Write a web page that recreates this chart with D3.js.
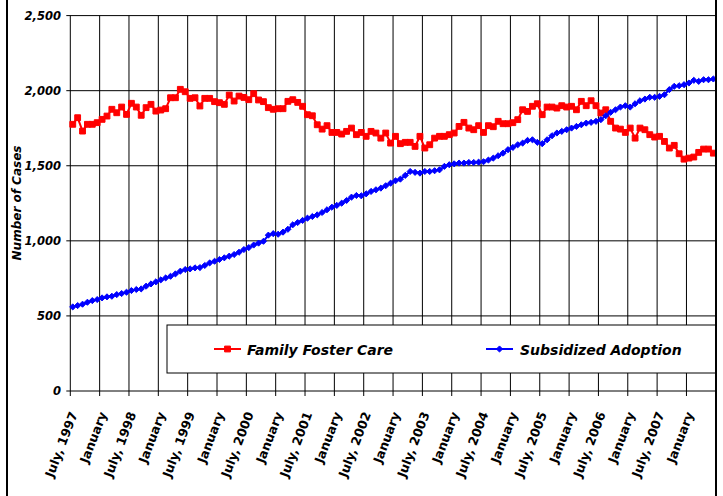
<!DOCTYPE html>
<meta charset="utf-8">
<style>
body {
  margin: 0;
  background: #fff;
}
.ylab {
  font-family: "DejaVu Sans", Verdana, sans-serif;
  font-size: 11.5px;
  font-weight: bold;
  font-style: italic;
}
.ytitle {
  font-family: "DejaVu Sans", Verdana, sans-serif;
  font-size: 12px;
  font-weight: bold;
  font-style: italic;
}
.xlab {
  font-family: "Comic Sans MS", "DejaVu Sans", sans-serif;
  font-size: 12.5px;
  font-weight: bold;
}
.legend text {
  font-family: "Comic Sans MS", "DejaVu Sans", sans-serif;
  font-size: 14px;
  font-weight: bold;
  font-style: italic;
}
</style>
<body>
<script src="https://cdn.jsdelivr.net/npm/d3@7"></script>
<script>
// monthly, July 1997 .. June 2008
var months = d3.timeMonth.range(new Date(1997, 6, 1), new Date(2008, 6, 1));

var tickLabels = ["July, 1997", "January", "July, 1998", "January", "July, 1999", "January",
  "July, 2000", "January", "July, 2001", "January", "July, 2002", "January",
  "July, 2003", "January", "July, 2004", "January", "July, 2005", "January",
  "July, 2006", "January", "July, 2007", "January"];

var yTicks = [0, 500, 1000, 1500, 2000, 2500];

var seriesNames = ["Family Foster Care", "Subsidized Adoption"];

var fosterCare = [
  1776, 1820, 1731, 1776, 1776, 1787, 1809, 1831, 1876, 1853, 1891, 1842,
  1916, 1891, 1836, 1887, 1909, 1864, 1871, 1880, 1953, 1953, 2009, 1993,
  1949, 1953, 1898, 1949, 1949, 1927, 1920, 1909, 1971, 1931, 1964, 1955,
  1940, 1980, 1938, 1927, 1887, 1876, 1880, 1880, 1929, 1940, 1922, 1896,
  1840, 1833, 1773, 1744, 1767, 1722, 1722, 1711, 1729, 1751, 1707, 1722,
  1696, 1729, 1718, 1684, 1718, 1651, 1696, 1647, 1656, 1656, 1629, 1696,
  1618, 1640, 1684, 1696, 1696, 1707, 1718, 1762, 1789, 1751, 1740, 1767,
  1722, 1767, 1760, 1796, 1780, 1780, 1787, 1807, 1873, 1862, 1896, 1913,
  1840, 1891, 1891, 1884, 1900, 1891, 1896, 1873, 1929, 1900, 1933, 1900,
  1851, 1873, 1796, 1751, 1744, 1722, 1751, 1684, 1751, 1740, 1707, 1691,
  1696, 1662, 1618, 1636, 1580, 1544, 1551, 1558, 1589, 1611, 1611, 1584
];

var adoption = [
  560, 569, 578, 591, 602, 609, 620, 627, 631, 642, 649, 658,
  669, 676, 680, 698, 713, 727, 740, 753, 764, 780, 798, 809,
  813, 820, 822, 836, 853, 864, 876, 887, 898, 909, 924, 942,
  955, 972, 985, 997, 1038, 1048, 1044, 1058, 1077, 1107, 1122, 1136,
  1151, 1162, 1173, 1189, 1207, 1224, 1236, 1251, 1269, 1291, 1302, 1300,
  1313, 1329, 1340, 1351, 1367, 1384, 1400, 1411, 1436, 1462, 1456, 1451,
  1462, 1462, 1467, 1473, 1496, 1507, 1513, 1518, 1518, 1522, 1522, 1524,
  1527, 1538, 1551, 1567, 1584, 1607, 1622, 1640, 1651, 1669, 1673, 1656,
  1647, 1673, 1700, 1718, 1729, 1740, 1751, 1762, 1773, 1784, 1789, 1796,
  1807, 1833, 1856, 1873, 1891, 1900, 1891, 1913, 1933, 1944, 1956, 1956,
  1962, 1973, 2007, 2029, 2033, 2040, 2051, 2069, 2062, 2073, 2073, 2078
];

var W = 723, H = 496;
var plotL = 70.3, plotR = 715.8, plotT = 15.6, plotB = 391;

var svg = d3.select("body").append("svg").attr("width", W).attr("height", H);

var x = d3.scaleBand().domain(d3.range(months.length)).range([plotL, plotR]).padding(0);
var y = d3.scaleLinear().domain([0, 2500]).range([plotB, plotT]);
var cx = function(i) { return x(i) + x.bandwidth() / 2; };

var tickIdx = d3.range(0, months.length, 6);

// grid
var grid = svg.append("g").attr("stroke", "#000").attr("stroke-width", 1);
grid.selectAll(".v").data(tickIdx.concat([months.length])).enter().append("line")
    .attr("x1", function(i) { return i < months.length ? x(i) : plotR; })
    .attr("x2", function(i) { return i < months.length ? x(i) : plotR; })
    .attr("y1", plotT).attr("y2", plotB + 5);
grid.selectAll(".h").data(yTicks).enter().append("line")
    .attr("x1", plotL - 4).attr("x2", plotR)
    .attr("y1", function(d) { return y(d); })
    .attr("y2", function(d) { return y(d); });

// legend box (covers the grid)
var legend = svg.append("g").attr("class", "legend");
legend.append("rect")
    .attr("x", 167).attr("y", 325).attr("width", 549).attr("height", 48)
    .attr("fill", "#fff").attr("stroke", "#000").attr("stroke-width", 1);

// y labels
svg.append("g").selectAll("text").data(yTicks).enter().append("text")
    .attr("class", "ylab")
    .attr("x", 61).attr("y", function(d) { return y(d) + 4; })
    .attr("text-anchor", "end")
    .text(d3.format(","));

svg.append("text")
    .attr("class", "ytitle")
    .attr("transform", "translate(21,203) rotate(-90)")
    .attr("text-anchor", "middle")
    .text("Number of Cases");

// x labels
svg.append("g").selectAll("text").data(tickIdx).enter().append("text")
    .attr("class", "xlab")
    .attr("transform", function(i) { return "translate(" + (cx(i) + 5) + ",414) rotate(-69)"; })
    .attr("text-anchor", "end")
    .text(function(i, k) { return tickLabels[k]; });

// series
var line = d3.line().x(function(d, i) { return cx(i); }).y(function(d) { return y(d); });

var series = [
  {values: fosterCare, color: "#ff0000", symbol: d3.symbolSquare, size: 34},
  {values: adoption, color: "#0000ff", symbol: d3.symbolDiamond2 || d3.symbolDiamond, size: 24}
];

series.forEach(function(s) {
  svg.append("path").datum(s.values)
      .attr("fill", "none").attr("stroke", s.color).attr("stroke-width", 2)
      .attr("d", line);
  svg.append("g").selectAll("path").data(s.values).enter().append("path")
      .attr("transform", function(d, i) { return "translate(" + cx(i) + "," + y(d) + ")"; })
      .attr("fill", s.color)
      .attr("stroke", s.color).attr("stroke-width", 1)
      .attr("d", d3.symbol().type(s.symbol).size(s.size));
});

// legend entries
var lx = [214, 486], tx = [247, 520];
series.forEach(function(s, k) {
  legend.append("line")
      .attr("x1", lx[k]).attr("x2", lx[k] + 27).attr("y1", 349).attr("y2", 349)
      .attr("stroke", s.color).attr("stroke-width", 2);
  legend.append("path")
      .attr("transform", "translate(" + (lx[k] + 13.5) + ",349)")
      .attr("fill", s.color).attr("stroke", s.color)
      .attr("d", d3.symbol().type(s.symbol).size(s.size));
  legend.append("text")
      .attr("x", tx[k]).attr("y", 355)
      .text(seriesNames[k]);
});

// outer frame
svg.append("rect")
    .attr("x", 7).attr("y", -5).attr("width", 709).attr("height", H + 10)
    .attr("fill", "none").attr("stroke", "#000").attr("stroke-width", 2);
</script>
</body>
